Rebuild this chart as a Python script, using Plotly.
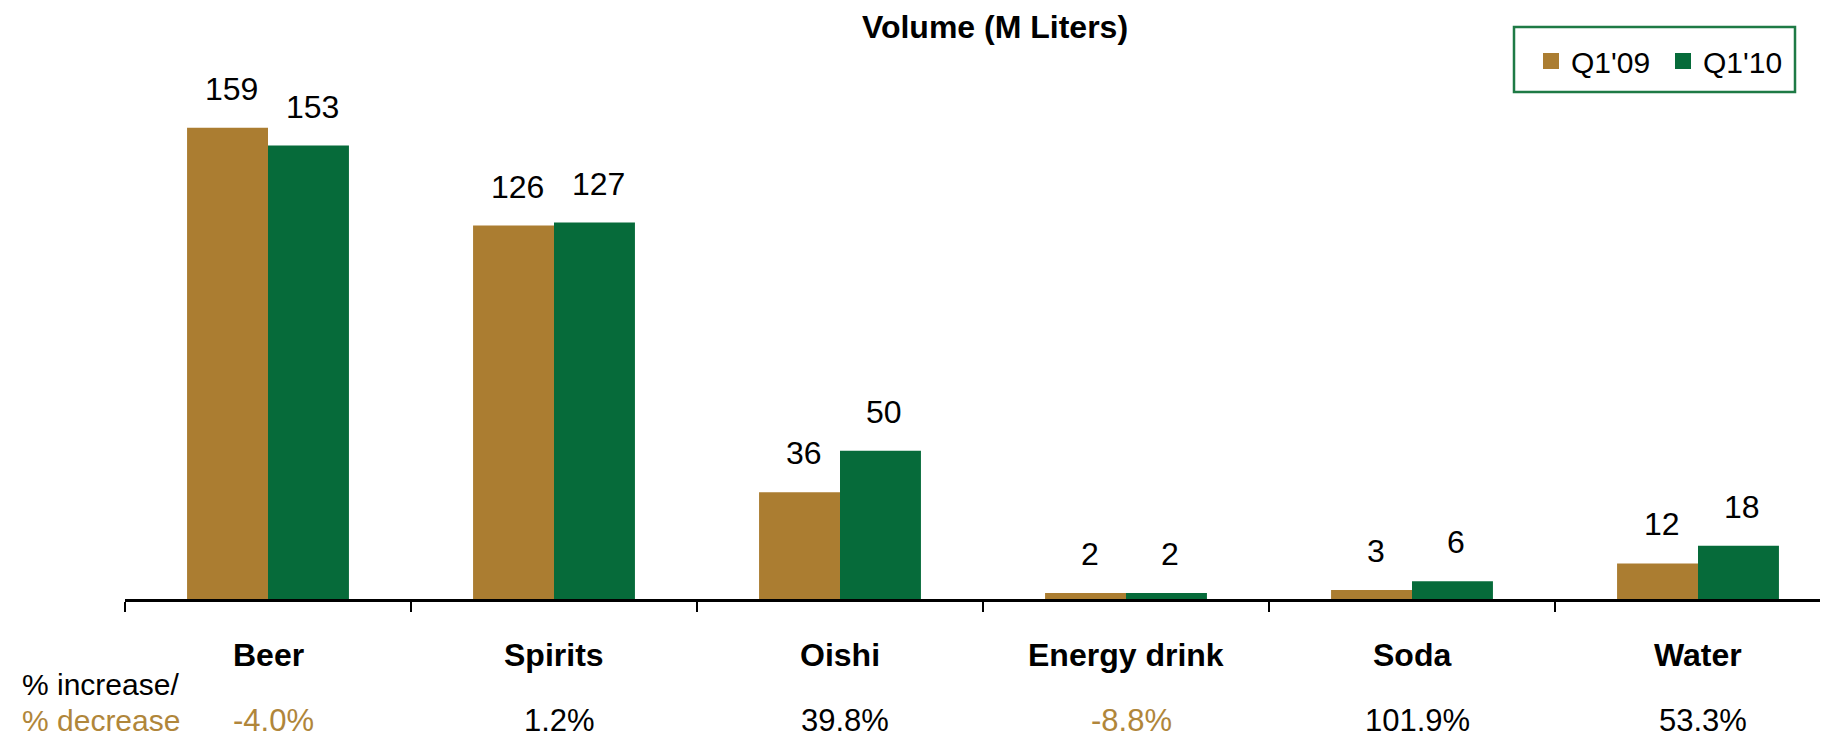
import plotly.graph_objects as go

categories = ["Beer", "Spirits", "Oishi", "Energy drink", "Soda", "Water"]
q1_09 = [159, 126, 36, 2, 3, 12]
q1_10 = [153, 127, 50, 2, 6, 18]
pct_change = ["-4.0%", "1.2%", "39.8%", "-8.8%", "101.9%", "53.3%"]
pct_negative = [True, False, False, True, False, False]
series_names = ["Q1'09", "Q1'10"]

GOLD = "#AB7D31"
GREEN = "#066B3A"
GOLD_TEXT = "#B0863A"
FONT = "Arial, Liberation Sans, sans-serif"

OFF = 8  # page body margin
W, H = 1828, 736
ML, MR, MT, MB = 125 - OFF, OFF, 40 - OFF, 137 + OFF
PW = W - ML - MR
PH = H - MT - MB
CAT_PX = 286.0
YMAX = PH / 2.964

def px_x(p):
    return (p - OFF - ML) / PW

def px_y(p):
    return (H - MB - (p - OFF)) / PH

fig = go.Figure()
fig.add_trace(go.Bar(x=categories, y=q1_09, name=series_names[0], marker=dict(color=GOLD, line=dict(width=0)), showlegend=False))
fig.add_trace(go.Bar(x=categories, y=q1_10, name=series_names[1], marker=dict(color=GREEN, line=dict(width=0)), showlegend=False))

# legend entries
for nm, col in zip(series_names, [GOLD, GREEN]):
    fig.add_trace(go.Scatter(x=[None], y=[None], mode="markers", name=nm,
                             marker=dict(symbol="square", size=16, color=col, line=dict(width=0))))

annotations = []
half = CAT_PX * 0.283 / 2
for c, v1, v2 in zip(categories, q1_09, q1_10):
    for v, dx in ((v1, -half + 4), (v2, half + 4)):
        annotations.append(dict(x=c, y=v, xref="x", yref="y", text=str(v), showarrow=False,
                                xshift=dx, yshift=19, yanchor="bottom", xanchor="center",
                                font=dict(family=FONT, size=32, color="black")))

for c, p, neg in zip(categories, pct_change, pct_negative):
    annotations.append(dict(x=c, y=0, xref="x", yref="paper", text="<b>%s</b>" % c, showarrow=False,
                            yshift=-55.5, yanchor="middle", xanchor="center",
                            font=dict(family=FONT, size=32, color="black")))
    annotations.append(dict(x=c, y=0, xref="x", yref="paper", text=p, showarrow=False,
                            xshift=5, yshift=-121.5, yanchor="middle", xanchor="center",
                            font=dict(family=FONT, size=31, color=GOLD_TEXT if neg else "black")))

annotations.append(dict(x=0, y=0, xref="paper", yref="paper", text="% increase/", showarrow=False,
                        xshift=-105, yshift=-85.5, xanchor="left", yanchor="middle",
                        font=dict(family=FONT, size=30, color="black")))
annotations.append(dict(x=0, y=0, xref="paper", yref="paper", text="% decrease", showarrow=False,
                        xshift=-105, yshift=-121.5, xanchor="left", yanchor="middle",
                        font=dict(family=FONT, size=30, color=GOLD_TEXT)))

fig.update_layout(
    width=W, height=H,
    margin=dict(l=ML, r=MR, t=MT, b=MB),
    paper_bgcolor="white", plot_bgcolor="white",
    barmode="group", bargap=0.434, bargroupgap=0,
    title=dict(text="<b>Volume (M Liters)</b>", x=(995 - OFF) / W, y=1 - (27 - OFF) / H,
               xanchor="center", yanchor="middle",
               font=dict(family=FONT, size=32, color="black")),
    xaxis=dict(type="category", range=[-0.5, -0.5 + PW / CAT_PX], showline=True, linecolor="black", linewidth=2.5,
               ticks="outside", tickson="boundaries", ticklen=10, tickwidth=2, tickcolor="black",
               showticklabels=False, showgrid=False, zeroline=False, fixedrange=True),
    yaxis=dict(range=[0, YMAX], visible=False, showgrid=False, zeroline=False),
    legend=dict(orientation="h", x=px_x(1531), y=px_y(61), xanchor="left", yanchor="middle",
                xref="paper", yref="paper", bgcolor="rgba(0,0,0,0)", borderwidth=0,
                font=dict(family=FONT, size=30, color="black"), entrywidth=87, entrywidthmode="pixels",
                itemclick=False),
    shapes=[dict(type="rect", xref="paper", yref="paper", x0=px_x(1514), x1=px_x(1795), y0=px_y(92), y1=px_y(27),
                 line=dict(color="#1E7A45", width=2.5), fillcolor="rgba(0,0,0,0)", layer="above")],
    annotations=annotations,
    showlegend=True,
)

fig.write_html("out.html")
